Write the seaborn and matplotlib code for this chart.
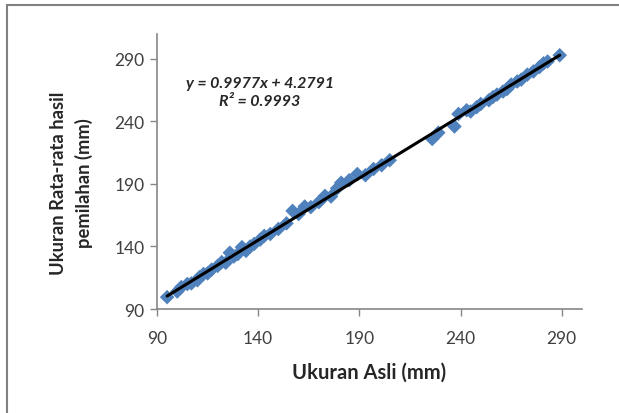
import matplotlib
matplotlib.use("Agg")
import matplotlib.pyplot as plt
import seaborn as sns
import pandas as pd
from matplotlib.lines import Line2D

# values (mm)
ukuran_asli = [95, 100, 102, 105, 107, 110, 111, 113, 115, 117, 120, 122, 124,
               126, 128, 130, 132, 134, 136, 138, 141, 143, 146, 150, 154, 157,
               160, 163, 166, 170, 173, 176, 179, 181, 185, 189, 193, 197, 201,
               205, 226, 229, 237, 239, 243, 245, 248, 250, 254, 256, 258, 261,
               263, 265, 268, 270, 273, 276, 279, 281, 283, 289]
ukuran_pemilahan = [99.5, 104, 107.5, 110, 110.5, 113, 115.5, 118, 118.5, 121.5,
                    124.5, 127.5, 127, 135, 132, 134, 139.5, 136.5, 140, 142,
                    145.5, 148.5, 150, 154, 158.5, 168.5, 166, 172, 171.5, 175.5,
                    180.5, 180, 186.5, 191, 193, 198, 197, 202, 205, 209, 226,
                    231, 236, 246, 249, 248, 251.5, 254, 257, 259.5, 261.5, 264,
                    266, 269.5, 272, 273.5, 277.5, 280, 283.5, 286.5, 288, 293]

ticks = [90, 140, 190, 240, 290]
equation = "y = 0.9977x + 4.2791\nR\u00b2 = 0.9993"

df = pd.DataFrame({"asli": ukuran_asli, "pemilahan": ukuran_pemilahan})

sns.set_style("white")
plt.rcParams["font.family"] = ["Lato", "DejaVu Sans"]

fig = plt.figure(figsize=(6.19, 4.14), dpi=100)
ax = fig.add_axes([0.2536, 0.2512, 0.6866, 0.6643])

sns.regplot(data=df, x="asli", y="pemilahan", ax=ax, ci=None, marker="D",
            scatter_kws={"s": 55, "color": "#4F81BD", "edgecolor": "none", "alpha": 1},
            line_kws={"color": "black", "linewidth": 2.2})

ax.set_xlim(90, 300)
ax.set_ylim(90, 310)
ax.set_xticks(ticks)
ax.set_yticks(ticks)
ax.tick_params(axis="both", direction="out", length=5, width=1, color="#868686",
               labelsize=12.5, labelcolor="#404040", pad=4, bottom=True, left=True)
ax.tick_params(axis="x", pad=10)
for side in ["top", "right"]:
    ax.spines[side].set_visible(False)
for side in ["left", "bottom"]:
    ax.spines[side].set_color("#868686")
    ax.spines[side].set_linewidth(1.2)

ax.set_xlabel("Ukuran Asli (mm)", fontsize=14.5, fontweight="bold", color="#262626")
ax.set_ylabel("Ukuran Rata-rata hasil\npemilahan (mm)", fontsize=13.2,
              fontweight="bold", color="#262626", linespacing=1.55)
ax.xaxis.set_label_coords(0.50, -0.19)
ax.yaxis.set_label_coords(-0.15, 0.46)

ax.text(0.242, 0.79, equation, transform=ax.transAxes, ha="center", va="center",
        fontsize=11.5, fontweight="bold", fontstyle="italic", color="#262626",
        linespacing=1.35)

# outer chart-area border (left and top visible in the crop)
fig.add_artist(Line2D([0.012, 0.012], [0, 0.985], transform=fig.transFigure,
                      color="#808080", linewidth=1.5))
fig.add_artist(Line2D([0.012, 1], [0.985, 0.985], transform=fig.transFigure,
                      color="#808080", linewidth=1.5))

fig.savefig("out.png", dpi=100)
